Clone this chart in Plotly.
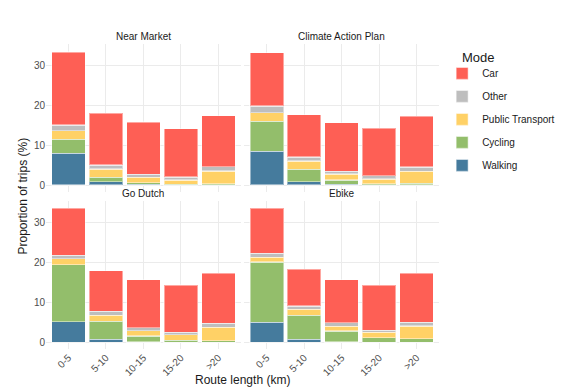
import plotly.graph_objects as go

categories = ["0-5", "5-10", "10-15", "15-20", ">20"]
modes = ["Walking", "Cycling", "Public Transport", "Other", "Car"]
colors = {"Walking": "#457B9D", "Cycling": "#93BE6B", "Public Transport": "#FFD166",
          "Other": "#BEBEBE", "Car": "#FE5F55"}

near_market = {
    "Walking": [8.0, 0.85, 0.2, 0.05, 0.05],
    "Cycling": [3.55, 1.1, 0.4, 0.15, 0.25],
    "Public Transport": [2.1, 2.1, 1.35, 1.05, 3.25],
    "Other": [1.45, 1.0, 0.75, 0.75, 1.1],
    "Car": [18.4, 13.0, 13.15, 12.2, 12.8],
}
climate_action_plan = {
    "Walking": [8.5, 0.85, 0.2, 0.05, 0.05],
    "Cycling": [7.5, 3.1, 1.05, 0.3, 0.35],
    "Public Transport": [2.2, 2.1, 1.5, 1.15, 3.1],
    "Other": [1.7, 1.0, 0.75, 0.85, 1.05],
    "Car": [13.4, 10.7, 12.2, 11.9, 12.75],
}
go_dutch = {
    "Walking": [5.2, 0.7, 0.05, 0.02, 0.02],
    "Cycling": [14.3, 4.6, 1.55, 0.5, 0.35],
    "Public Transport": [1.5, 1.5, 1.35, 1.35, 3.35],
    "Other": [0.9, 0.95, 0.75, 0.6, 1.1],
    "Car": [11.8, 10.25, 12.05, 11.95, 12.55],
}
ebike = {
    "Walking": [5.05, 0.7, 0.05, 0.02, 0.02],
    "Cycling": [15.15, 6.05, 2.8, 1.1, 0.85],
    "Public Transport": [1.2, 1.5, 1.2, 1.35, 3.2],
    "Other": [1.0, 0.85, 0.85, 0.55, 1.0],
    "Car": [11.3, 9.2, 10.85, 11.3, 12.25],
}
panels = [("Near Market", near_market, "x", "y"),
          ("Climate Action Plan", climate_action_plan, "x2", "y2"),
          ("Go Dutch", go_dutch, "x3", "y3"),
          ("Ebike", ebike, "x4", "y4")]
legend_rank = {"Car": 1, "Other": 2, "Public Transport": 3, "Cycling": 4, "Walking": 5}

FONT = "Liberation Sans"
fig = go.Figure()
for pi, (name, data, xa, ya) in enumerate(panels):
    for m in modes:
        fig.add_trace(go.Bar(
            x=categories, y=data[m], name=m, xaxis=xa, yaxis=ya,
            marker=dict(color=colors[m], line=dict(color="rgba(255,255,255,0.45)", width=1.2)),
            legendgroup=m, legendrank=legend_rank[m], showlegend=(pi == 0),
        ))

xl = [0, 0.496]
xr = [0.5046, 1]
yt = [0.5157, 1]
yb = [0, 0.485]
yrange = [-1.69, 35.5]
grid = "#EBEBEB"
tickfont = dict(family=FONT, size=10, color="#4D4D4D")

def xax(domain, anchor, show):
    return dict(domain=domain, anchor=anchor, type="category", range=[-0.6, 4.6],
                showgrid=True, gridcolor=grid, zeroline=False, showline=False,
                ticks="", showticklabels=show, tickangle=-45, tickfont=tickfont,
                automargin=False)

def yax(domain, anchor, show):
    return dict(domain=domain, anchor=anchor, range=yrange, tickvals=[0, 10, 20, 30],
                showgrid=True, gridcolor=grid, zeroline=False, showline=False,
                ticks="", showticklabels=show, tickfont=tickfont, automargin=False)

# page body has an 8px default margin, so the figure is sized/offset to compensate
fig.update_layout(
    width=569, height=384, barmode="stack", bargap=0.1,
    plot_bgcolor="white", paper_bgcolor="white",
    margin=dict(l=38, r=138, t=36, b=43, autoexpand=False),
    font=dict(family=FONT, color="#1A1A1A"),
    xaxis=xax(xl, "y", False), yaxis=yax(yt, "x", True),
    xaxis2=xax(xr, "y2", False), yaxis2=yax(yt, "x2", False),
    xaxis3=xax(xl, "y3", True), yaxis3=yax(yb, "x3", True),
    xaxis4=xax(xr, "y4", True), yaxis4=yax(yb, "x4", False),
    legend=dict(x=1.008, y=0.951, xanchor="left", yanchor="top",
                font=dict(size=10, family=FONT, color="#1A1A1A"), traceorder="grouped",
                tracegroupgap=4, bgcolor="rgba(0,0,0,0)"),
    showlegend=True,
)

strip = dict(family=FONT, size=10, color="#1A1A1A")
ann = [
    dict(text="Near Market", x=sum(xl) / 2, y=yt[1], yanchor="bottom", yshift=0),
    dict(text="Climate Action Plan", x=sum(xr) / 2, y=yt[1], yanchor="bottom", yshift=0),
    dict(text="Go Dutch", x=sum(xl) / 2, y=yb[1], yanchor="bottom", yshift=0),
    dict(text="Ebike", x=sum(xr) / 2, y=yb[1], yanchor="bottom", yshift=0),
]
for a in ann:
    fig.add_annotation(xref="paper", yref="paper", showarrow=False, font=strip, xanchor="center", **a)

fig.add_annotation(text="Mode", xref="paper", yref="paper", x=1.0, y=1.0,
                   xanchor="left", yanchor="middle", xshift=21, yshift=-13,
                   showarrow=False, font=dict(family=FONT, size=13, color="#1A1A1A"))
fig.add_annotation(text="Proportion of trips (%)", xref="paper", yref="paper", x=0, y=0.5,
                   xanchor="center", yanchor="middle", xshift=-24, textangle=-90,
                   showarrow=False, font=dict(family=FONT, size=12, color="#1A1A1A"))
fig.add_annotation(text="Route length (km)", xref="paper", yref="paper", x=0.5, y=0,
                   xanchor="center", yanchor="middle", yshift=-31,
                   showarrow=False, font=dict(family=FONT, size=12, color="#1A1A1A"))

fig.write_html("out.html")
